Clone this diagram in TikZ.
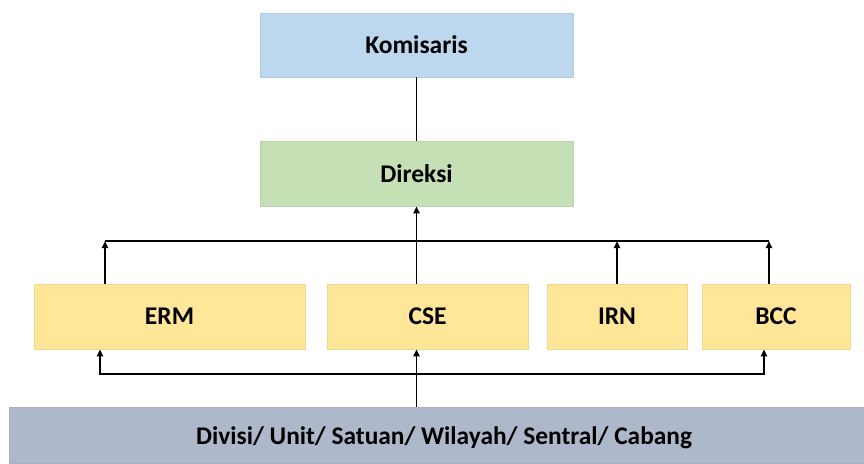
\documentclass[tikz,border=0pt]{standalone}
\usepackage{fontspec}
\setmainfont{Carlito}
\usetikzlibrary{arrows.meta}
\definecolor{kblue}{HTML}{BDD7EE}
\definecolor{dgreen}{HTML}{C5E0B4}
\definecolor{uyellow}{HTML}{FFE699}
\definecolor{bgrey}{HTML}{ADB9CA}
\tikzset{
  box/.style={draw=#1!85!gray, line width=0.6pt, fill=#1, inner sep=0pt,
    font=\fontsize{25.5}{28}\selectfont\bfseries, text=black},
  conn/.style={line width=1.8pt, draw=black},
  tip/.style={conn, -{Triangle[length=7pt,width=6pt]}},
}
\begin{document}
\begin{tikzpicture}[x=1pt,y=-1pt]
\useasboundingbox (0,0) rectangle (864,463);
\node[box=kblue, minimum width=313pt, minimum height=64pt] (kom) at (416.5,45) {Komisaris};
\node[box=dgreen, minimum width=313pt, minimum height=65pt] (dir) at (416.5,173.5) {Direksi};
\node[box=uyellow, minimum width=271pt, minimum height=65pt] (erm) at (169.5,316.5) {ERM};
\node[box=uyellow, minimum width=201pt, minimum height=65pt] (cse) at (427.5,316.5) {CSE};
\node[box=uyellow, minimum width=140pt, minimum height=65pt] (irn) at (617,316.5) {IRN};
\node[box=uyellow, minimum width=148pt, minimum height=65pt] (bcc) at (776,316.5) {BCC};
\node[box=bgrey, minimum width=870pt, minimum height=56pt, font=\fontsize{25.4}{28}\selectfont\bfseries] (div) at (444,435) {};
\node[font=\fontsize{25.4}{28}\selectfont\bfseries, inner sep=0pt] (divtext) at (444,438) {Divisi/ Unit/ Satuan/ Wilayah/ Sentral/ Cabang};
\coordinate (tl) at (105,241);
\coordinate (tr) at (769,241);
\coordinate (bl) at (100,374);
\coordinate (br) at (764,374);
\draw[conn] (kom.south) -- (dir.north);
\draw[conn] (tl) -- (tr);
\draw[tip] (erm.north -| tl) -- (tl);
\draw[tip] (cse.north -| dir.south) -- (dir.south);
\draw[tip] (irn.north) -- (irn.north |- tl);
\draw[tip] (bcc.north -| tr) -- (tr);
\draw[conn, {Triangle[length=7pt,width=6pt]}-{Triangle[length=7pt,width=6pt]}] (erm.south -| bl) -- (bl) -- (br) -- (bcc.south -| br);
\draw[tip] (div.north -| dir.south) -- (cse.south -| dir.south);
\end{tikzpicture}
\end{document}
